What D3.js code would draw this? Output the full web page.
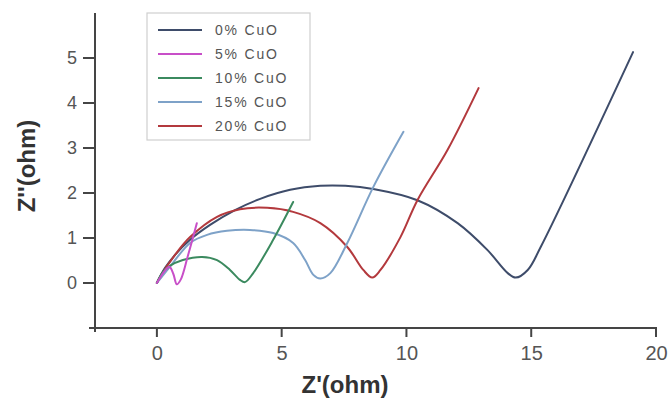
<!DOCTYPE html>
<html>
<head>
<meta charset="utf-8">
<script src="https://cdn.jsdelivr.net/npm/d3@7"></script>
<style>
  body { margin: 0; background: #fff; }
  svg { display: block; font-family: "Liberation Sans", Arial, sans-serif; }
</style>
</head>
<body>
<div id="chart"></div>
<script>
// series labels and colours, legend order
const seriesNames = ["0% CuO", "5% CuO", "10% CuO", "15% CuO", "20% CuO"];
const seriesColors = ["#3e4c6a", "#c84fc8", "#3b8a5f", "#7ea2c8", "#b3393d"];

// Nyquist points: [Z', Z'']
const cuo0 = [[0, 0], [0.32, 0.33], [0.72, 0.62], [1.33, 0.96], [2.13, 1.29], [3.13, 1.62],
  [4.14, 1.87], [5.34, 2.07], [6.55, 2.16], [7.55, 2.16], [8.67, 2.09], [10.44, 1.84],
  [12.05, 1.33], [13.25, 0.73], [14.06, 0.22], [14.38, 0.12], [14.86, 0.29], [15.38, 0.8],
  [19.08, 5.13]];
const cuo5 = [[0, 0], [0.3, 0.26], [0.5, 0.36], [0.66, 0.2], [0.8, -0.03], [0.96, 0.08],
  [1.24, 0.6], [1.6, 1.33]];
const cuo10 = [[0, 0], [0.24, 0.24], [0.52, 0.38], [1.04, 0.51], [1.81, 0.58], [2.41, 0.51],
  [2.93, 0.29], [3.33, 0.07], [3.53, 0.02], [3.86, 0.22], [4.66, 0.96], [5.46, 1.8]];
const cuo15 = [[0, 0], [0.52, 0.36], [1.33, 0.89], [2.01, 1.07], [2.81, 1.16], [3.73, 1.18],
  [4.66, 1.11], [5.46, 0.89], [5.94, 0.51], [6.27, 0.18], [6.55, 0.1], [6.95, 0.22],
  [7.63, 0.89], [8.67, 2.13], [9.88, 3.36]];
const cuo20 = [[0, 0], [0.12, 0.13], [0.72, 0.62], [1.33, 1.02], [2.41, 1.47], [3.33, 1.64],
  [4.42, 1.67], [5.46, 1.58], [6.55, 1.33], [7.63, 0.8], [8.27, 0.29], [8.63, 0.12],
  [8.96, 0.29], [9.76, 1.02], [10.44, 1.84], [11.65, 2.96], [12.89, 4.33]];

const xTicks = [0, 5, 10, 15, 20];
const yTicks = [0, 1, 2, 3, 4, 5];

const seriesData = [cuo0, cuo5, cuo10, cuo15, cuo20];
const drawOrder = [0, 4, 3, 2, 1];

const width = 669, height = 399;

const svg = d3.select("#chart")
  .append("svg")
  .attr("width", width)
  .attr("height", height);

const x = d3.scaleLinear().domain([-2.6, 20]).range([92, 656]);
const y = d3.scaleLinear().domain([-1, 6]).range([328, 13]);

const axisColor = "#454545";
const axisX = 95, axisY = y(-1);

// axis lines (they cross a little at the lower left corner)
svg.append("line")
  .attr("x1", 89).attr("x2", 657)
  .attr("y1", axisY).attr("y2", axisY)
  .attr("stroke", axisColor).attr("stroke-width", 2);
svg.append("line")
  .attr("x1", axisX).attr("x2", axisX)
  .attr("y1", y(6)).attr("y2", axisY + 4)
  .attr("stroke", axisColor).attr("stroke-width", 2);

// tick marks
svg.append("g")
  .selectAll("line")
  .data(xTicks)
  .enter()
  .append("line")
  .attr("x1", (d) => x(d)).attr("x2", (d) => x(d))
  .attr("y1", axisY).attr("y2", axisY + 9)
  .attr("stroke", axisColor).attr("stroke-width", 2);

svg.append("g")
  .selectAll("line")
  .data(yTicks)
  .enter()
  .append("line")
  .attr("x1", axisX - 12).attr("x2", axisX)
  .attr("y1", (d) => y(d)).attr("y2", (d) => y(d))
  .attr("stroke", axisColor).attr("stroke-width", 2);

// tick labels through d3 axes
const xAxis = svg.append("g")
  .attr("transform", `translate(0,${axisY})`)
  .call(d3.axisBottom(x).tickValues(xTicks).tickFormat(d3.format("d"))
    .tickSize(0).tickPadding(18));
xAxis.select(".domain").remove();
xAxis.selectAll(".tick line").remove();
xAxis.selectAll(".tick text")
  .attr("fill", "#555")
  .style("font-size", "20px")
  .style("font-family", "'Liberation Sans', Arial, sans-serif");

const yAxis = svg.append("g")
  .attr("transform", `translate(${axisX},0)`)
  .call(d3.axisLeft(y).tickValues(yTicks).tickFormat(d3.format("d"))
    .tickSize(0).tickPadding(18));
yAxis.select(".domain").remove();
yAxis.selectAll(".tick line").remove();
yAxis.selectAll(".tick text")
  .attr("fill", "#555")
  .style("font-size", "18px")
  .style("font-family", "'Liberation Sans', Arial, sans-serif");

// axis titles
svg.append("text")
  .attr("x", 345)
  .attr("y", 393)
  .attr("text-anchor", "middle")
  .attr("fill", "#333")
  .style("font-size", "24px")
  .style("font-weight", "bold")
  .text("Z'(ohm)");

svg.append("text")
  .attr("transform", "translate(35,166) rotate(-90)")
  .attr("text-anchor", "middle")
  .attr("fill", "#333")
  .style("font-size", "24px")
  .style("font-weight", "bold")
  .text("Z''(ohm)");

// curves
const line = d3.line()
  .x((d) => x(d[0]))
  .y((d) => y(d[1]))
  .curve(d3.curveCatmullRom.alpha(0.5));

svg.append("g")
  .selectAll("path")
  .data(drawOrder)
  .enter()
  .append("path")
  .attr("d", (i) => line(seriesData[i]))
  .attr("fill", "none")
  .attr("stroke", (i) => seriesColors[i])
  .attr("stroke-width", 2)
  .attr("stroke-linejoin", "round")
  .attr("stroke-linecap", "round");

// legend
const legend = svg.append("g");
legend.append("rect")
  .attr("x", 147).attr("y", 13)
  .attr("width", 163).attr("height", 127)
  .attr("fill", "#fff")
  .attr("stroke", "#cfcfcf")
  .attr("stroke-width", 1.2);

const rowY = d3.scalePoint().domain(seriesNames).range([30, 126]);

const rows = legend.selectAll("g.row")
  .data(seriesNames)
  .enter()
  .append("g")
  .attr("class", "row")
  .attr("transform", (d) => `translate(0,${rowY(d)})`);

rows.append("line")
  .attr("x1", 158).attr("x2", 202)
  .attr("stroke", (d, i) => seriesColors[i])
  .attr("stroke-width", 2);

rows.append("text")
  .attr("x", 215)
  .attr("dy", "0.35em")
  .attr("fill", "#555")
  .style("font-size", "14px")
  .style("letter-spacing", "1.8px")
  .text((d) => d);
</script>
</body>
</html>
